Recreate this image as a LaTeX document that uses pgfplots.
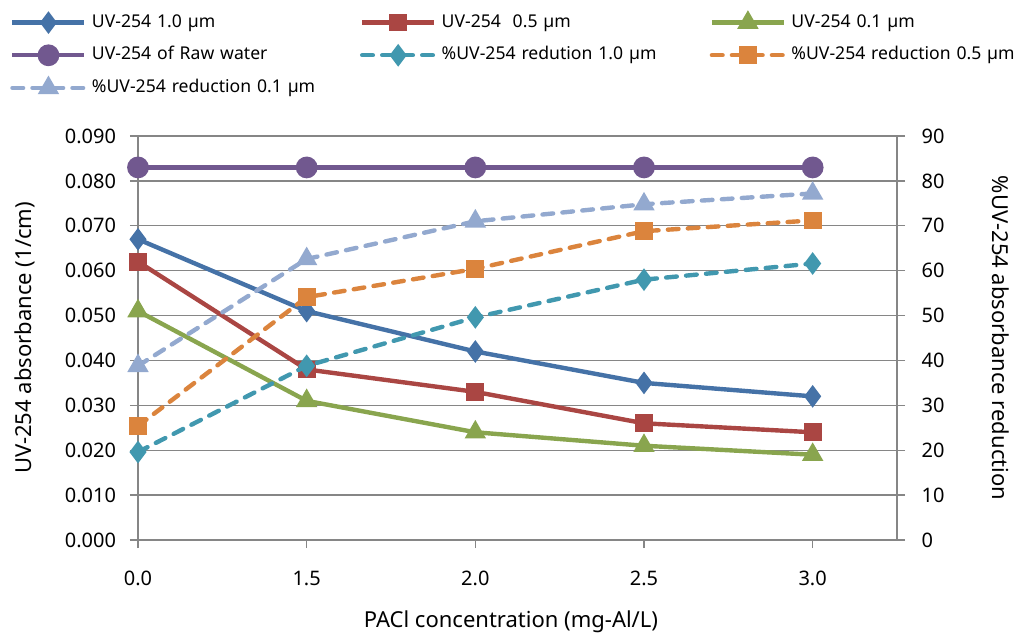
\documentclass[border=0pt]{standalone}
\usepackage{pgfplots}
\pgfplotsset{compat=1.18}
\usepackage{fontspec}
\setmainfont{Noto Sans}
\definecolor{cA}{HTML}{4572A7}
\definecolor{cB}{HTML}{AA4643}
\definecolor{cC}{HTML}{89A54E}
\definecolor{cD}{HTML}{71588F}
\definecolor{cE}{HTML}{4198AF}
\definecolor{cF}{HTML}{DB843D}
\definecolor{cG}{HTML}{93A9CF}
\definecolor{gridgray}{HTML}{868686}
\begin{document}
\begin{tikzpicture}[font=\fontsize{15}{18}\selectfont]
\path[use as bounding box] (-103.5pt,-72.75pt) rectangle (664.5pt,405pt);
\pgfplotsset{
  base/.style={
    at={(0,0)}, anchor=south west,
    scale only axis, width=569.25pt, height=303pt,
    xmin=0, xmax=4.5, clip=false,
    tick align=outside, major tick length=6pt,
    tick style={gridgray, line width=1pt},
    axis line style={-, draw=gridgray, line width=1pt},
    /pgf/number format/assume math mode=true,
    tick label style={font=\fontsize{15}{18}\selectfont},
    label style={font=\fontsize{16.5}{20}\selectfont},
  },
  solidl/.style={line width=3.3pt, mark options={solid}},
  dashl/.style={line width=3.3pt, line cap=round, dash pattern=on 8pt off 7pt, mark options={solid}},
}
\begin{axis}[base,
  ymin=0, ymax=0.09,
  xtick={0,1,2,3,4}, xticklabels={0.0,1.5,2.0,2.5,3.0},
  ytick={0,0.01,0.02,0.03,0.04,0.05,0.06,0.07,0.08,0.09},
  scaled y ticks=false,
  yticklabel style={/pgf/number format/fixed, /pgf/number format/fixed zerofill, /pgf/number format/precision=3, xshift=-7pt},
  xticklabel style={yshift=-14pt},
  ymajorgrids, grid style={gridgray, line width=1pt},
  axis x line*=bottom, axis y line*=left,
  xlabel={PACl concentration (mg-Al/L)},
  ylabel={UV-254 absorbance (1/cm)},
  xlabel style={at={(axis description cs:0.4914,-0.203)}, anchor=center},
  ylabel style={at={(axis description cs:-0.1489,0.5)}, anchor=center},
]
\addplot[cA, solidl, mark=diamond*, mark size=5.8pt] coordinates {(0,0.067) (1,0.051) (2,0.042) (3,0.035) (4,0.032)};
\addplot[cB, solidl, mark=square*, mark size=5pt] coordinates {(0,0.062) (1,0.038) (2,0.033) (3,0.026) (4,0.024)};
\addplot[cC, solidl, mark=triangle*, mark size=6pt] coordinates {(0,0.051) (1,0.031) (2,0.024) (3,0.021) (4,0.019)};
\addplot[cD, solidl, mark=*, mark size=6.5pt] coordinates {(0,0.083) (1,0.083) (2,0.083) (3,0.083) (4,0.083)};
\end{axis}
\begin{axis}[base,
  ymin=0, ymax=90,
  ytick={0,10,...,90},
  axis y line*=right, axis x line=none,
  yticklabel style={xshift=9pt},
  ylabel={\%UV-254 absorbance reduction},
  ylabel style={at={(axis description cs:1.1368,0.5)}, anchor=center, rotate=180},
  legend columns=3,
  legend cell align=left,
  legend image code/.code={\draw[mark repeat=2,mark phase=2] plot coordinates {(0pt,0pt) (27pt,0pt) (54pt,0pt)};},
  legend style={at={(axis description cs:-0.16864,1.3094)}, anchor=north west, draw=none, fill=none, inner sep=0pt, column sep=0pt, row sep=7.5pt,
    font=\fontsize{13.2}{16}\selectfont,
    nodes={text width=197pt, inner xsep=4pt, inner ysep=1pt, text height=11pt, text depth=4pt, align=left}},
]
\addlegendimage{cA, solidl, mark=diamond*, mark size=5.8pt}
\addlegendentry{UV-254 1.0 µm}
\addlegendimage{cB, solidl, mark=square*, mark size=5pt}
\addlegendentry{UV-254\ \ 0.5 µm}
\addlegendimage{cC, solidl, mark=triangle*, mark size=6pt}
\addlegendentry{UV-254 0.1 µm}
\addlegendimage{cD, solidl, mark=*, mark size=6.5pt}
\addlegendentry{UV-254 of Raw water}
\addplot[cE, dashl, mark=diamond*, mark size=5.8pt] coordinates {(0,19.6) (1,38.8) (2,49.6) (3,58.0) (4,61.6)};
\addlegendentry{\%UV-254 redution 1.0 µm}
\addplot[cF, dashl, mark=square*, mark size=5pt] coordinates {(0,25.4) (1,54.1) (2,60.4) (3,68.8) (4,71.2)};
\addlegendentry{\%UV-254 reduction 0.5 µm}
\addplot[cG, dashl, mark=triangle*, mark size=6pt] coordinates {(0,38.8) (1,62.6) (2,71.0) (3,74.8) (4,77.2)};
\addlegendentry{\%UV-254 reduction 0.1 µm}
\end{axis}
\end{tikzpicture}
\end{document}
